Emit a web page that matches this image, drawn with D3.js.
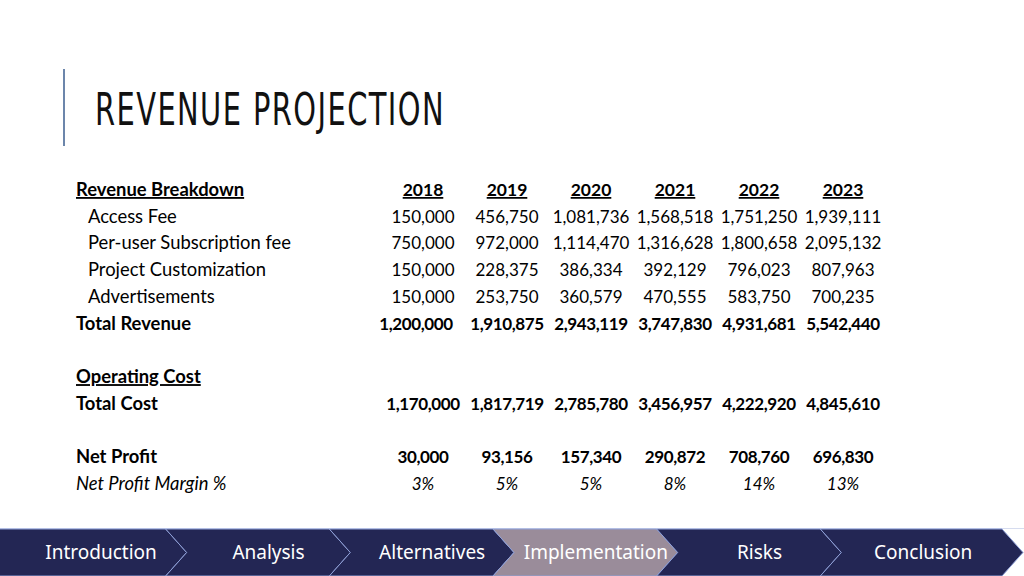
<!DOCTYPE html>
<html>
<head>
<meta charset="utf-8">
<script src="https://cdn.jsdelivr.net/npm/d3@7"></script>
<style>
  html, body { margin: 0; padding: 0; background: #fff; }
  svg { display: block; }
</style>
</head>
<body>
<div id="slide"></div>
<script>
// table data
const years = ['2018', '2019', '2020', '2021', '2022', '2023'];
const accessFee = [150000, 456750, 1081736, 1568518, 1751250, 1939111];
const subscriptionFee = [750000, 972000, 1114470, 1316628, 1800658, 2095132];
const customization = [150000, 228375, 386334, 392129, 796023, 807963];
const advertisements = [150000, 253750, 360579, 470555, 583750, 700235];
const totalRevenue = [1200000, 1910875, 2943119, 3747830, 4931681, 5542440];
const totalCost = [1170000, 1817719, 2785780, 3456957, 4222920, 4845610];
const netProfit = [30000, 93156, 157340, 290872, 708760, 696830];
const profitMargin = [3, 5, 5, 8, 14, 13];
const navItems = ['Introduction', 'Analysis', 'Alternatives', 'Implementation', 'Risks', 'Conclusion'];
const activeNav = 'Implementation';

const width = 1024;
const height = 576;
const fmt = d3.format(',');

const svg = d3.select('#slide')
  .append('svg')
  .attr('width', width)
  .attr('height', height);

// title and the thin accent bar
svg.append('line')
  .attr('x1', 64).attr('x2', 64)
  .attr('y1', 69).attr('y2', 146)
  .attr('stroke', '#6c86ab')
  .attr('stroke-width', 2);

svg.append('text')
  .attr('x', 95)
  .attr('y', 125)
  .attr('textLength', 350)
  .attr('lengthAdjust', 'spacingAndGlyphs')
  .style('font-family', '"DejaVu Sans Condensed", "Liberation Sans Narrow", sans-serif')
  .style('font-size', '45px')
  .style('letter-spacing', '2px')
  .attr('fill', '#111')
  .text('REVENUE PROJECTION');

// rows of the table
const rows = [
  { label: 'Revenue Breakdown', type: 'head' },
  { label: 'Access Fee', type: 'item', values: accessFee },
  { label: 'Per-user Subscription fee', type: 'item', values: subscriptionFee },
  { label: 'Project Customization', type: 'item', values: customization },
  { label: 'Advertisements', type: 'item', values: advertisements },
  { label: 'Total Revenue', type: 'total', values: totalRevenue },
  { label: '', type: 'blank' },
  { label: 'Operating Cost', type: 'section' },
  { label: 'Total Cost', type: 'cond', values: totalCost },
  { label: '', type: 'blank' },
  { label: 'Net Profit', type: 'cond', values: netProfit },
  { label: 'Net Profit Margin %', type: 'pct', values: profitMargin }
];

const yScale = d3.scalePoint()
  .domain(d3.range(rows.length))
  .range([196, 490]);

const xScale = d3.scalePoint()
  .domain(years)
  .range([423, 843]);

const tableFont = 'Lato, "Open Sans", sans-serif';

const rowG = svg.selectAll('.row')
  .data(rows)
  .enter()
  .append('g')
  .attr('class', 'row')
  .attr('transform', (d, i) => `translate(0, ${yScale(i)})`)
  .style('font-family', tableFont)
  .style('font-size', '17px')
  .attr('fill', '#000');

rowG.append('text')
  .attr('x', d => d.type === 'item' ? 88 : 76)
  .style('font-size', '18.4px')
  .style('font-weight', d => ['head', 'total', 'section', 'cond'].includes(d.type) ? 'bold' : 'normal')
  .style('font-style', d => d.type === 'pct' ? 'italic' : 'normal')
  .style('text-decoration', d => (d.type === 'head' || d.type === 'section') ? 'underline' : 'none')
  .text(d => d.label);

// year headers
svg.selectAll('.year')
  .data(years)
  .enter()
  .append('text')
  .attr('class', 'year')
  .attr('x', d => xScale(d))
  .attr('y', yScale(0))
  .attr('text-anchor', 'middle')
  .style('font-family', tableFont)
  .style('font-size', '17.5px')
  .style('font-weight', 'bold')
  .style('text-decoration', 'underline')
  .text(d => d);

rowG.filter(d => d.values)
  .selectAll('.val')
  .data(d => d.values.map((v, j) => ({ v, year: years[j], type: d.type })))
  .enter()
  .append('text')
  .attr('class', 'val')
  .attr('x', d => xScale(d.year) - (d.type === 'total' && d.year === years[0] ? 7 : 0))
  .attr('text-anchor', 'middle')
  .style('font-weight', d => (d.type === 'total' || d.type === 'cond') ? 'bold' : 'normal')
  .style('font-style', d => d.type === 'pct' ? 'italic' : 'normal')
  .style('letter-spacing', d => d.type === 'total' || d.type === 'cond' ? '-0.4px' : '0px')
  .text(d => d.type === 'pct' ? d.v + '%' : fmt(d.v));

// bottom navigation chevrons
const navTop = 529;
const navBottom = 576;
const tip = 21;
const navScale = d3.scaleBand()
  .domain(navItems)
  .range([2, 984]);

const navG = svg.append('g');
navG.append('rect')
  .attr('x', 0).attr('y', navTop - 1)
  .attr('width', width).attr('height', 1)
  .attr('fill', '#d6dcef');

const chevron = (d, i) => {
  const x0 = i === 0 ? -10 : navScale(d);
  const x1 = i === navItems.length - 1 ? 1002 : navScale(d) + navScale.step();
  const mid = (navTop + navBottom) / 2;
  const left = i === 0 ? `M${x0},${navTop} L${x0},${navBottom}` :
    `M${x0},${navTop} L${x0 + tip},${mid} L${x0},${navBottom}`;
  return `${left} L${x1},${navBottom} L${x1 + tip},${mid} L${x1},${navTop} Z`;
};

navG.selectAll('.chev')
  .data(navItems)
  .enter()
  .append('path')
  .attr('class', 'chev')
  .attr('d', chevron)
  .attr('fill', d => d === activeNav ? '#9a8c9a' : '#232654')
  .attr('stroke', '#8fa0d8')
  .attr('stroke-width', 1);

navG.selectAll('.navlabel')
  .data(navItems)
  .enter()
  .append('text')
  .attr('class', 'navlabel')
  .attr('x', (d, i) => i === 0 ? 101 : navScale(d) + navScale.bandwidth() / 2 + tip)
  .attr('y', 559)
  .attr('text-anchor', 'middle')
  .style('font-family', '"Noto Sans", sans-serif')
  .style('font-size', '19px')
  .attr('fill', '#fff')
  .text(d => d);
</script>
</body>
</html>
